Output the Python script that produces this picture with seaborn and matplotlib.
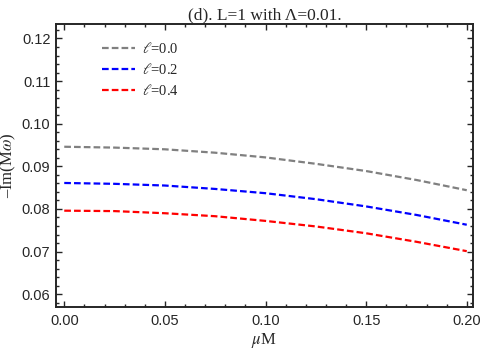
import matplotlib
matplotlib.use("Agg")
import matplotlib.pyplot as plt
import seaborn as sns
import pandas as pd
from matplotlib.ticker import MultipleLocator

mu = [0.0, 0.025, 0.05, 0.075, 0.1, 0.125, 0.15, 0.175, 0.2]
im_l00 = [0.0946, 0.0944, 0.0940, 0.0932, 0.0921, 0.0906, 0.0889, 0.0868, 0.0844]
im_l02 = [0.0861, 0.0859, 0.0855, 0.0847, 0.0837, 0.0823, 0.0806, 0.0786, 0.0763]
im_l04 = [0.0796, 0.0795, 0.0790, 0.0783, 0.0772, 0.0759, 0.0743, 0.0723, 0.0701]
labels = [r"$\ell$=0.0", r"$\ell$=0.2", r"$\ell$=0.4"]
colors = ["#808080", "#0000ff", "#ff0000"]

rows = []
for lab, ys in zip(labels, [im_l00, im_l02, im_l04]):
    for x, y in zip(mu, ys):
        rows.append({"mu": x, "val": y, "series": lab})
df = pd.DataFrame(rows)

sns.set_style("ticks")
plt.rcParams["mathtext.fontset"] = "stix"

fig = plt.figure(figsize=(4.98, 3.54), dpi=100)
ax = fig.add_axes([56/498, 1-307/354, (473-56)/498, (307-24)/354])

sns.lineplot(data=df, x="mu", y="val", hue="series", style="series",
             palette=dict(zip(labels, colors)),
             dashes={l: (3, 1.4) for l in labels}, linewidth=1.6, ax=ax,
             legend=True)

ax.set_xlim(-0.0041, 0.2031)
ax.set_ylim(0.0570, 0.1234)
ax.xaxis.set_major_locator(MultipleLocator(0.05))
ax.xaxis.set_minor_locator(MultipleLocator(0.01))
ax.yaxis.set_major_locator(MultipleLocator(0.01))
ax.yaxis.set_minor_locator(MultipleLocator(0.002))
ax.xaxis.set_major_formatter(matplotlib.ticker.FormatStrFormatter("%.2f"))
ax.yaxis.set_major_formatter(matplotlib.ticker.FormatStrFormatter("%.2f"))
ax.tick_params(which="both", direction="in", top=True, right=True, width=1.0)
ax.tick_params(which="major", length=4)
ax.tick_params(which="minor", length=2)
ax.tick_params(axis="x", which="major", pad=5)
ax.tick_params(axis="y", which="major", pad=4)
for lbl in ax.get_xticklabels() + ax.get_yticklabels():
    lbl.set_fontfamily(["Liberation Sans Narrow", "Liberation Sans"])
    lbl.set_fontsize(10.5)
for sp in ax.spines.values():
    sp.set_linewidth(1.4)

ax.set_xlabel(r"$\mu$M", fontfamily="Liberation Serif", fontsize=12)
ax.xaxis.set_label_coords((264 - 56) / 417, -(341 - 307) / 283)
ax.xaxis.label.set_va("center")
ax.set_ylabel("\u2013Im(M$\\omega$)", fontfamily="Liberation Serif", fontsize=12)
ax.yaxis.set_label_coords(-(56 - 18) / 417, (307 - 165) / 283)
ax.set_title("(d). L=1 with Λ=0.01.", fontfamily="Liberation Serif", fontsize=12.5, pad=3)

leg = ax.legend(loc="upper left", bbox_to_anchor=(0.08, 0.985), frameon=False,
                handlelength=2.2, handletextpad=0.5, labelspacing=0.4,
                prop={"family": "Liberation Serif", "size": 10.5})

fig.savefig("out.png", dpi=100)
